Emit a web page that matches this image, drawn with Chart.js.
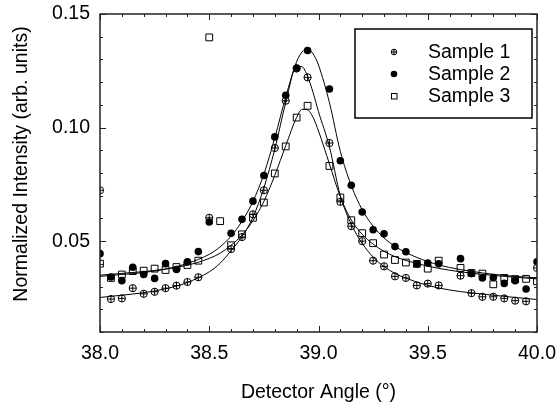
<!DOCTYPE html>
<html>
<head>
<meta charset="utf-8">
<script src="https://cdn.jsdelivr.net/npm/chart.js@4.4.1/dist/chart.umd.min.js"></script>
<style>
	html, body { margin: 0; padding: 0; background: #fff; }
	#wrap { width: 557px; height: 407px; }
</style>
</head>
<body>
<div id="wrap"><canvas id="chart" width="557" height="407"></canvas></div>
<script>
(function () {
	'use strict';

	// --- Data ---

	const angles = [38.00, 38.05, 38.10, 38.15, 38.20, 38.25, 38.30, 38.35, 38.40, 38.45,
		38.50, 38.55, 38.60, 38.65, 38.70, 38.75, 38.80, 38.85, 38.90, 38.95,
		39.00, 39.05, 39.10, 39.15, 39.20, 39.25, 39.30, 39.35, 39.40, 39.45,
		39.50, 39.55, 39.60, 39.65, 39.70, 39.75, 39.80, 39.85, 39.90, 39.95, 40.00];

	const sample1 = [0.0724, 0.0245, 0.0248, 0.0293, 0.0268, 0.0277, 0.0293, 0.0304, 0.0320, 0.0341,
		0.0603, null, 0.0465, 0.0518, 0.0618, 0.0724, 0.0910, 0.1118, 0.1260, 0.1221,
		null, 0.0932, 0.0673, 0.0566, 0.0500, 0.0414, 0.0389, 0.0345, 0.0338, 0.0305,
		0.0313, 0.0305, null, 0.0348, 0.0271, 0.0255, 0.0255, 0.0248, 0.0238, 0.0235, 0.0382];

	const sample2 = [0.0445, 0.0342, 0.0326, 0.0385, 0.0353, 0.0336, 0.0401, 0.0375, 0.0409, 0.0454,
		0.0584, null, 0.0535, 0.0596, 0.0676, 0.0789, 0.0959, 0.1142, 0.1262, 0.1339,
		null, 0.1170, 0.0854, 0.0746, 0.0628, 0.0550, 0.0532, 0.0476, 0.0453, 0.0400,
		0.0404, 0.0400, null, 0.0423, 0.0357, 0.0338, 0.0340, 0.0314, 0.0326, 0.0289, 0.0409];

	const sample3 = [0.0401, 0.0338, 0.0353, 0.0368, 0.0370, 0.0379, 0.0373, 0.0386, 0.0395, 0.0414,
		0.1397, 0.0588, 0.0482, 0.0530, 0.0603, 0.0670, 0.0798, 0.0917, 0.1044, 0.1096,
		null, 0.0831, 0.0692, 0.0592, 0.0535, 0.0491, 0.0441, 0.0417, 0.0406, 0.0400,
		0.0379, 0.0414, null, 0.0382, 0.0360, 0.0357, 0.0310, 0.0338, 0.0333, 0.0334, 0.0323];

	// fitted curves
	const fitAngles = [38.0, 38.1, 38.2, 38.3, 38.4, 38.5, 38.55, 38.6, 38.65, 38.7,
		38.75, 38.8, 38.85, 38.9, 38.925, 38.95, 38.975, 39.0, 39.05, 39.1,
		39.15, 39.2, 39.25, 39.3, 39.35, 39.4, 39.5, 39.6, 39.7, 39.8, 39.9, 40.0];

	const fit1 = [0.0252, 0.0262, 0.0273, 0.0290, 0.0318, 0.0365, 0.0403, 0.0458, 0.0520, 0.0605,
		0.0735, 0.0905, 0.1110, 0.1270, 0.1268, 0.1225, 0.1155, 0.1070, 0.0915, 0.0700,
		0.0575, 0.0490, 0.0430, 0.0388, 0.0358, 0.0337, 0.0305, 0.0285, 0.0272, 0.0262, 0.0252, 0.0243];

	const fit2 = [0.0345, 0.0353, 0.0362, 0.0377, 0.0402, 0.0442, 0.0475, 0.0522, 0.0588, 0.0675,
		0.0795, 0.0955, 0.1135, 0.1290, 0.1333, 0.1345, 0.1325, 0.1275, 0.1110, 0.0895,
		0.0745, 0.0638, 0.0566, 0.0514, 0.0477, 0.0450, 0.0410, 0.0384, 0.0367, 0.0354, 0.0345, 0.0338];

	const fit3 = [0.0350, 0.0358, 0.0366, 0.0377, 0.0394, 0.0424, 0.0447, 0.0482, 0.0527, 0.0590,
		0.0675, 0.0790, 0.0920, 0.1045, 0.1080, 0.1078, 0.1045, 0.0985, 0.0840, 0.0695,
		0.0593, 0.0530, 0.0487, 0.0455, 0.0432, 0.0415, 0.0390, 0.0372, 0.0359, 0.0349, 0.0341, 0.0334];

	const seriesNames = ['Sample 1', 'Sample 2', 'Sample 3'];
	const xTickLabels = [38.0, 38.5, 39.0, 39.5, 40.0];
	const yTickLabels = [0.05, 0.10, 0.15];

	// --- Helpers ---

	const FONT = "'Liberation Sans', Arial, Helvetica, sans-serif";
	const FONT_SIZE = 19.5;
	const INK = '#000';

	function toPoints(xs, ys) {
		const out = [];
		xs.forEach((x, i) => {
			if (ys[i] !== null) out.push({ x: x, y: ys[i] });
		});
		return out;
	}

	function fitLine(data) {
		return {
			data: data,
			showLine: true,
			borderColor: INK,
			borderWidth: 1,
			pointRadius: 0,
			cubicInterpolationMode: 'monotone',
			fill: false,
		};
	}

	// --- Plugins ---

	const frame = {
		id: 'frame',
		afterDraw(chart) {
			const { ctx, chartArea: a, scales: { x, y } } = chart;
			ctx.save();
			ctx.strokeStyle = '#222';
			ctx.lineWidth = 1.5;
			ctx.strokeRect(a.left, a.top, a.right - a.left, a.bottom - a.top);

			ctx.lineWidth = 1;
			ctx.beginPath();
			for (let i = 0; i <= 20; i++) {
				const px = Math.round(x.getPixelForValue(38 + i * 0.1)) + 0.5;
				const len = i % 5 === 0 ? 6 : 3;
				ctx.moveTo(px, a.bottom);
				ctx.lineTo(px, a.bottom - len);
				ctx.moveTo(px, a.top);
				ctx.lineTo(px, a.top + len);
			}
			for (let i = 1; i <= 15; i++) {
				const py = Math.round(y.getPixelForValue(i * 0.01)) + 0.5;
				const len = i % 5 === 0 ? 6 : 3;
				ctx.moveTo(a.left, py);
				ctx.lineTo(a.left + len, py);
				ctx.moveTo(a.right, py);
				ctx.lineTo(a.right - len, py);
			}
			ctx.stroke();

			// y axis title
			ctx.fillStyle = INK;
			ctx.font = FONT_SIZE + 'px ' + FONT;
			ctx.textAlign = 'center';
			ctx.textBaseline = 'middle';
			ctx.translate(22, 164);
			ctx.rotate(-Math.PI / 2);
			ctx.fillText('Normalized Intensity (arb. units)', 0, 0);
			ctx.restore();
		},
	};

	const boxLegend = {
		id: 'boxLegend',
		afterDraw(chart) {
			const ctx = chart.ctx;
			ctx.save();
			ctx.fillStyle = '#fff';
			ctx.fillRect(355, 29, 177, 89);
			ctx.strokeStyle = INK;
			ctx.lineWidth = 1.5;
			ctx.strokeRect(355, 29, 177, 89);

			const rows = [52, 74, 96];
			const mx = 394;

			ctx.lineWidth = 1;
			ctx.beginPath();
			ctx.arc(mx, rows[0], 2.8, 0, Math.PI * 2);
			ctx.moveTo(mx - 2.8, rows[0]);
			ctx.lineTo(mx + 2.8, rows[0]);
			ctx.moveTo(mx, rows[0] - 2.8);
			ctx.lineTo(mx, rows[0] + 2.8);
			ctx.stroke();

			ctx.fillStyle = INK;
			ctx.beginPath();
			ctx.arc(mx, rows[1], 3.3, 0, Math.PI * 2);
			ctx.fill();

			ctx.strokeRect(mx - 2.5, rows[2] - 2.5, 5.5, 5.5);

			ctx.font = FONT_SIZE + 'px ' + FONT;
			ctx.textAlign = 'left';
			ctx.textBaseline = 'middle';
			seriesNames.forEach((name, i) => ctx.fillText(name, 428, rows[i] + 1));
			ctx.restore();
		},
	};

	// --- Chart ---

	const canvas = document.getElementById('chart');
	const sample1Points = toPoints(angles, sample1);

	new Chart(canvas, {
		type: 'scatter',
		data: {
			datasets: [
				{
					label: seriesNames[0],
					data: sample1Points,
					pointStyle: 'circle',
					pointRadius: 3.6,
					backgroundColor: 'rgba(0,0,0,0)',
					borderColor: INK,
					borderWidth: 1,
					clip: 0,
				},
				{
					label: seriesNames[0] + ' cross',
					data: sample1Points,
					pointStyle: 'cross',
					pointRadius: 3.6,
					borderColor: INK,
					borderWidth: 1,
					clip: 0,
				},
				{
					label: seriesNames[1],
					data: toPoints(angles, sample2),
					pointStyle: 'circle',
					pointRadius: 3.8,
					backgroundColor: INK,
					borderColor: INK,
					borderWidth: 0,
					clip: 0,
				},
				{
					label: seriesNames[2],
					data: toPoints(angles, sample3),
					pointStyle: 'rect',
					pointRadius: 4.8,
					backgroundColor: 'rgba(0,0,0,0)',
					borderColor: INK,
					borderWidth: 1,
					clip: 0,
				},
				fitLine(toPoints(fitAngles, fit1)),
				fitLine(toPoints(fitAngles, fit2)),
				fitLine(toPoints(fitAngles, fit3)),
			],
		},
		options: {
			responsive: false,
			animation: false,
			devicePixelRatio: 1,
			layout: { padding: { top: 14, right: 20, left: 0, bottom: 0 } },
			plugins: {
				legend: { display: false },
				tooltip: { enabled: false },
			},
			scales: {
				x: {
					type: 'linear',
					min: 38,
					max: 40,
					afterBuildTicks: (s) => { s.ticks = xTickLabels.map(v => ({ value: v })); },
					afterFit: (s) => {
						s.height = 75;
						s.paddingLeft = 0;
						s.paddingRight = 0;
					},
					grid: { display: false, drawTicks: false },
					border: { display: false },
					ticks: {
						color: INK,
						padding: 10,
						maxRotation: 0,
						autoSkip: false,
						font: { family: FONT, size: FONT_SIZE },
						callback: (v) => Number(v).toFixed(1),
					},
					title: {
						display: true,
						text: 'Detector Angle (°)',
						color: INK,
						font: { family: FONT, size: FONT_SIZE },
						padding: { top: 0, bottom: 3 },
					},
				},
				y: {
					type: 'linear',
					min: 0.01,
					max: 0.15,
					afterBuildTicks: (s) => { s.ticks = yTickLabels.map(v => ({ value: v })); },
					afterFit: (s) => {
						s.width = 100;
						s.paddingTop = 0;
						s.paddingBottom = 0;
					},
					grid: { display: false, drawTicks: false },
					border: { display: false },
					ticks: {
						color: INK,
						padding: 10,
						autoSkip: false,
						font: { family: FONT, size: FONT_SIZE },
						callback: (v) => Number(v).toFixed(2),
					},
				},
			},
		},
		plugins: [frame, boxLegend],
	});
})();
</script>
</body>
</html>
